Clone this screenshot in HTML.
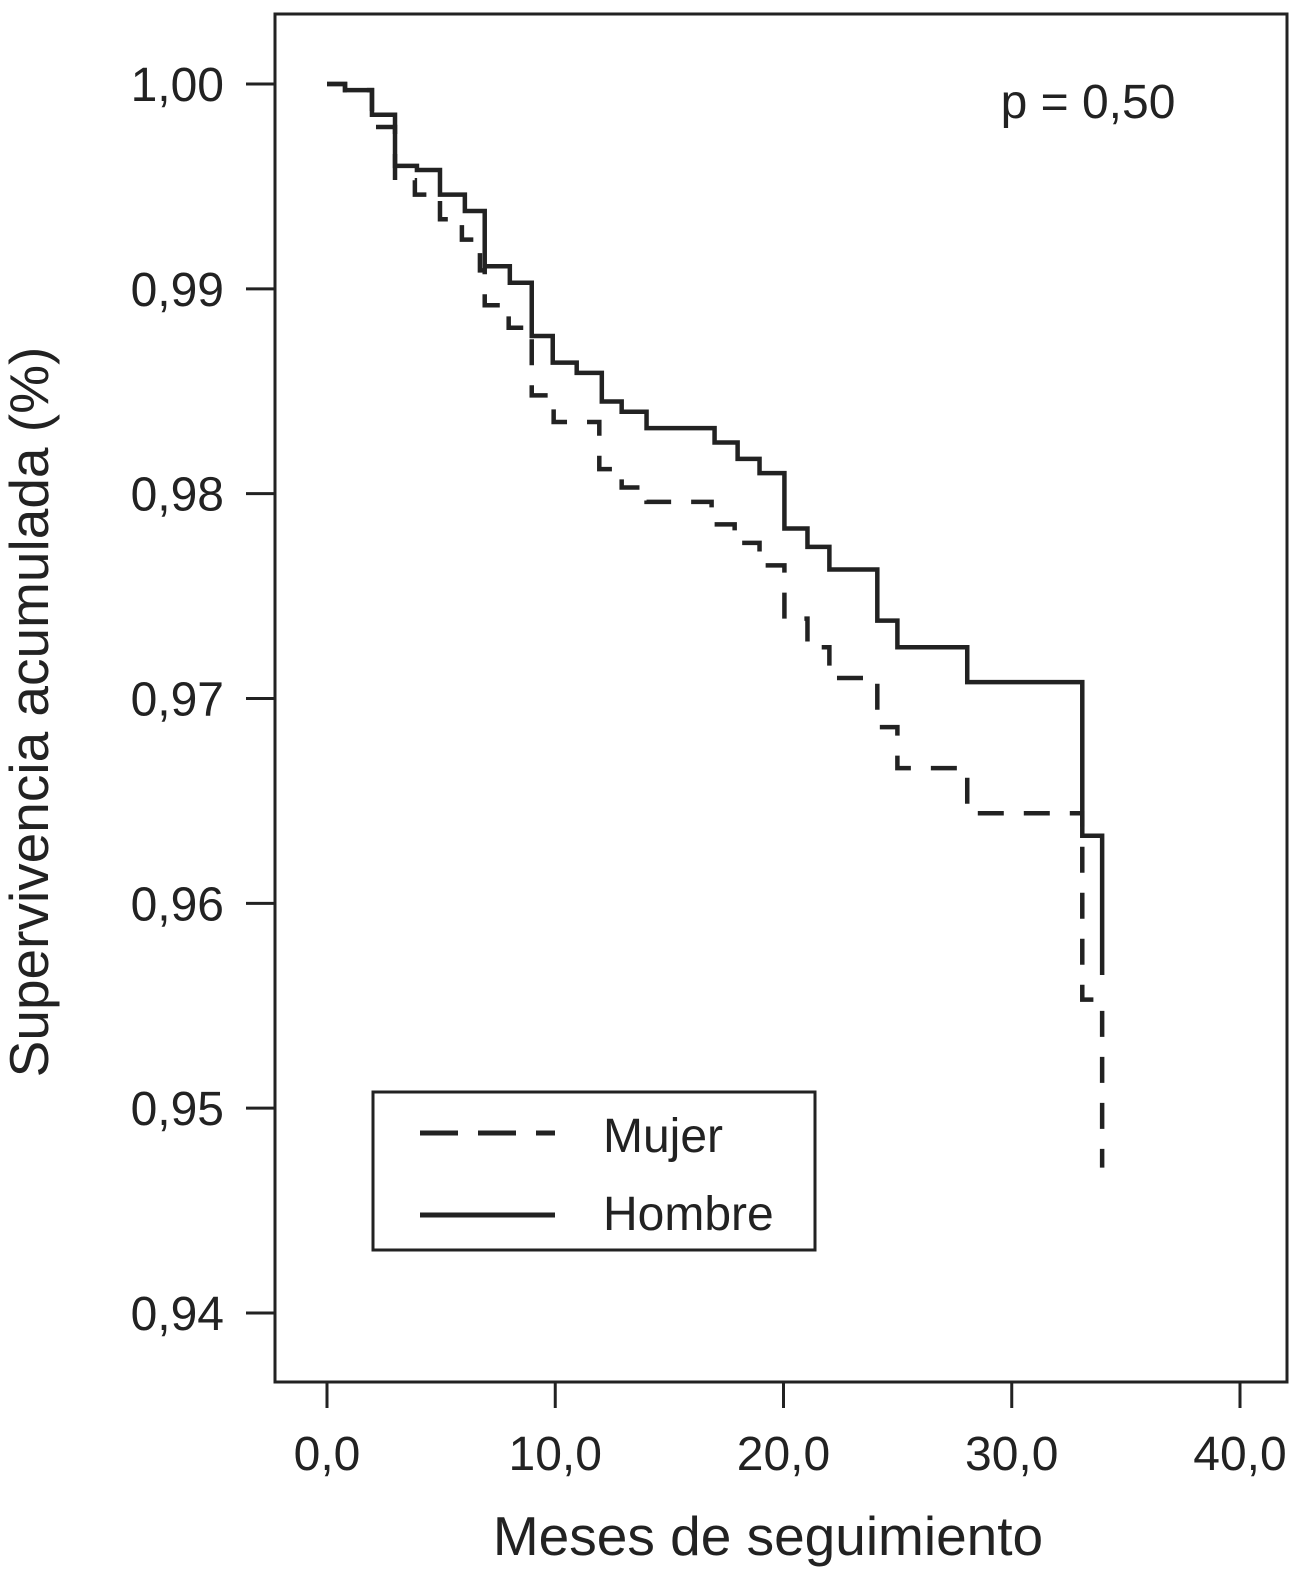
<!DOCTYPE html>
<html><head><meta charset="utf-8"><style>
html,body{margin:0;padding:0;background:#fff;}
svg{display:block;font-family:"Liberation Sans",sans-serif;}
</style></head><body>
<svg id="chart" width="1314" height="1570" viewBox="0 0 1314 1570">
<rect x="275" y="14" width="1012" height="1368" fill="none" stroke="#222" stroke-width="3"/>
<g id="axes"></g>
<g id="series"></g>
<text x="1088" y="118" font-size="48" text-anchor="middle" fill="#222">p = 0,50</text>
<text x="768" y="1555" font-size="55" text-anchor="middle" fill="#222">Meses de seguimiento</text>
<text transform="translate(48,712) rotate(-90)" font-size="55" text-anchor="middle" fill="#222">Supervivencia acumulada (%)</text>
<g>
<rect x="373" y="1092" width="442" height="158" fill="#fff" stroke="#222" stroke-width="3"/>
<line x1="420" y1="1133" x2="555" y2="1133" stroke="#222" stroke-width="5" stroke-dasharray="38,20"/>
<text x="603" y="1152" font-size="48" fill="#222">Mujer</text>
<line x1="420" y1="1215" x2="555" y2="1215" stroke="#222" stroke-width="5"/>
<text x="603" y="1230" font-size="48" fill="#222">Hombre</text>
</g>
</svg>
<script>
const xTicks = [0, 10, 20, 30, 40];
const xTickLabels = ["0,0", "10,0", "20,0", "30,0", "40,0"];
const yTicks = [1.00, 0.99, 0.98, 0.97, 0.96, 0.95, 0.94];
const yTickLabels = ["1,00", "0,99", "0,98", "0,97", "0,96", "0,95", "0,94"];
const hombreTimes = [0, 0.79, 1.97, 2.98, 3.94, 4.95, 6.04, 6.91, 8.01, 8.97, 9.89, 10.94, 12.04, 12.91, 14.0, 16.98, 17.99, 18.95, 20.04, 21.05, 22.01, 24.11, 24.99, 28.05, 33.09, 33.96];
const hombreSurv = [1.0, 0.9997, 0.9985, 0.9960, 0.9958, 0.9946, 0.9938, 0.9911, 0.9903, 0.9877, 0.9864, 0.9859, 0.9845, 0.9840, 0.9832, 0.9825, 0.9817, 0.9810, 0.9783, 0.9774, 0.9763, 0.9738, 0.9725, 0.9708, 0.9633, 0.9565];
const mujerTimes = [0, 0.79, 1.97, 2.98, 3.85, 4.95, 5.91, 6.7, 6.91, 7.96, 8.97, 9.93, 11.93, 12.91, 14.0, 16.85, 17.86, 18.95, 20.04, 21.05, 22.01, 24.11, 24.99, 28.05, 33.09, 33.96];
const mujerSurv = [1.0, 0.9997, 0.9979, 0.9953, 0.9946, 0.9934, 0.9924, 0.9909, 0.9892, 0.9881, 0.9848, 0.9835, 0.9812, 0.9803, 0.9796, 0.9785, 0.9776, 0.9765, 0.9739, 0.9725, 0.9710, 0.9686, 0.9666, 0.9644, 0.9553, 0.9471];

const NS = "http://www.w3.org/2000/svg";
function xs(t){ return 327 + (t - 0) * (1240 - 327) / 40; }
function ys(v){ return 84 + (1.0 - v) * (1313 - 84) / 0.06; }
function mk(tag, attrs, parent){ const e = document.createElementNS(NS, tag); for (const k in attrs) e.setAttribute(k, attrs[k]); parent.appendChild(e); return e; }

const axes = document.getElementById('axes');
xTicks.forEach((t, i) => {
  const l = mk('line', {x1: xs(t), x2: xs(t), y1: 1382, y2: 1408, stroke: '#222', 'stroke-width': 3}, axes);
  
  
  const tx = mk('text', {x: xs(t), y: 1470, 'font-size': 48, 'text-anchor': 'middle', fill: '#222'}, axes);
  tx.textContent = xTickLabels[i];
  
  
});
yTicks.forEach((v, i) => {
  const l = mk('line', {x1: 246, x2: 275, y1: ys(v), y2: ys(v), stroke: '#222', 'stroke-width': 3}, axes);
  
  
  const tx = mk('text', {x: 224, y: ys(v) + 17, 'font-size': 48, 'text-anchor': 'end', fill: '#222'}, axes);
  tx.textContent = yTickLabels[i];
  
  
});

function stepPath(times, surv){
  let d = 'M' + xs(times[0]) + ',' + ys(surv[0]);
  for (let i = 1; i < times.length; i++){
    d += ' H' + xs(times[i]) + ' V' + ys(surv[i]);
  }
  return d;
}
const series = document.getElementById('series');
const pm = mk('path', {d: stepPath(mujerTimes, mujerSurv), fill: 'none', stroke: '#222', 'stroke-width': 4.5, 'stroke-dasharray': '26,20'}, series);


const ph = mk('path', {d: stepPath(hombreTimes, hombreSurv), fill: 'none', stroke: '#222', 'stroke-width': 4.5}, series);


</script>
</body></html>
